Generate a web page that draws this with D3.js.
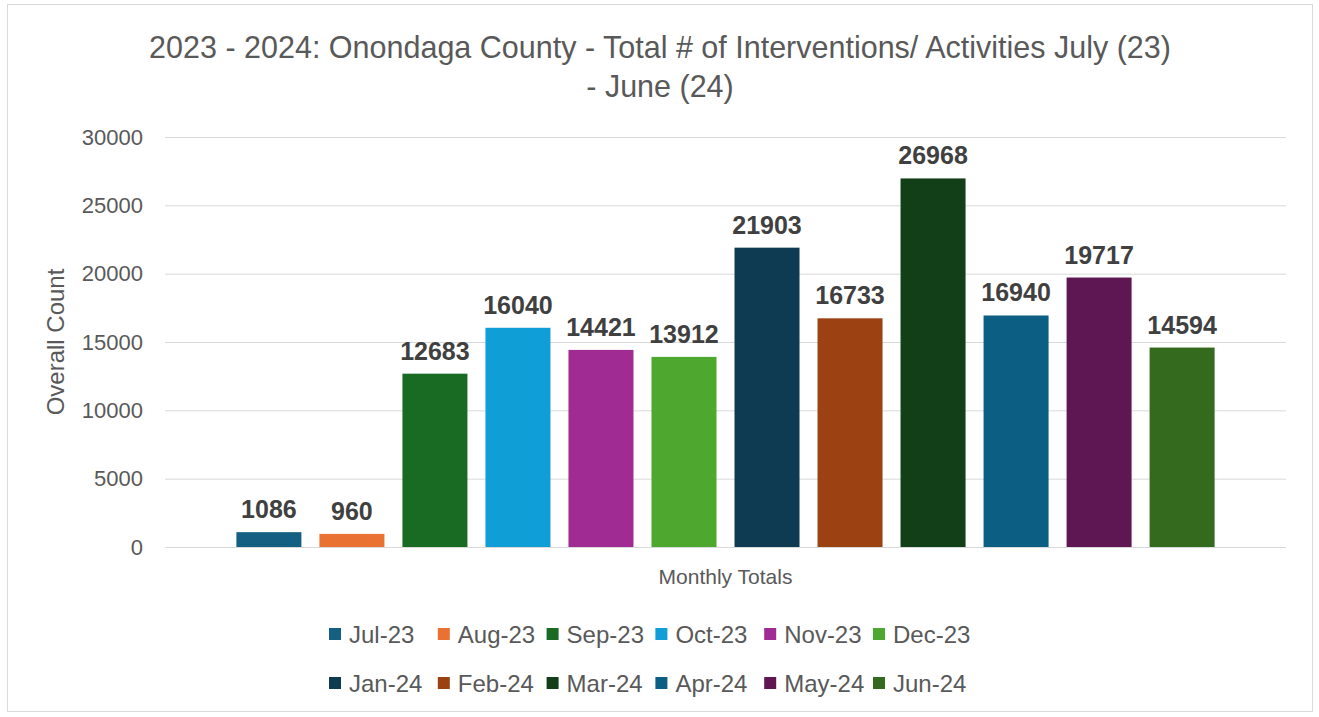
<!DOCTYPE html>
<html>
<head>
<meta charset="utf-8">
<script src="https://cdn.jsdelivr.net/npm/d3@7"></script>
<style>
  body { margin: 0; background: #fff; }
  svg { display: block; }
</style>
</head>
<body>
<div id="chart"></div>
<script>
// one category ("Monthly Totals"), one series per month
var months = ["Jul-23", "Aug-23", "Sep-23", "Oct-23", "Nov-23", "Dec-23",
              "Jan-24", "Feb-24", "Mar-24", "Apr-24", "May-24", "Jun-24"];
var totals = [1086, 960, 12683, 16040, 14421, 13912,
              21903, 16733, 26968, 16940, 19717, 14594];
var colors = ["#156082", "#E97132", "#196B24", "#0F9ED5", "#A02B93", "#4EA72E",
              "#0E3A52", "#9B4112", "#123F18", "#0C5E82", "#5F1753", "#336A1E"];
var yTicks = [0, 5000, 10000, 15000, 20000, 25000, 30000];

var W = 1319, H = 717;
var plotLeft = 165, plotRight = 1286, plotTop = 137, plotBottom = 547;
var font = "'Liberation Sans', Arial, sans-serif";

var svg = d3.select("#chart").append("svg")
    .attr("width", W)
    .attr("height", H);

// chart frame
svg.append("rect")
    .attr("x", 7.5).attr("y", 4.5)
    .attr("width", 1305).attr("height", 707)
    .attr("fill", "#fff")
    .attr("stroke", "#d9d9d9");

var x = d3.scaleBand()
    .domain(months)
    .range([plotLeft, plotRight])
    .paddingInner(0.217)
    .paddingOuter(0.86);

var y = d3.scaleLinear()
    .domain([0, 30000])
    .range([plotBottom, plotTop]);

// gridlines + tick labels
var yAxis = svg.append("g")
    .attr("transform", "translate(" + plotLeft + ",0)")
    .call(d3.axisLeft(y).tickValues(yTicks).tickSize(-(plotRight - plotLeft)).tickPadding(22).tickFormat(d3.format("d")));
yAxis.select(".domain").remove();
yAxis.selectAll(".tick line").attr("stroke", "#d9d9d9");
yAxis.selectAll(".tick text")
    .attr("fill", "#595959")
    .style("font-family", font)
    .style("font-size", "22px");

// bars
svg.selectAll("rect.bar")
    .data(months)
    .enter()
    .append("rect")
    .attr("class", "bar")
    .attr("x", function (d) { return x(d); })
    .attr("y", function (d, i) { return y(totals[i]); })
    .attr("width", x.bandwidth())
    .attr("height", function (d, i) { return plotBottom - y(totals[i]); })
    .attr("fill", function (d, i) { return colors[i]; });

// value labels
svg.selectAll("text.val")
    .data(months)
    .enter()
    .append("text")
    .attr("class", "val")
    .attr("x", function (d) { return x(d) + x.bandwidth() / 2; })
    .attr("y", function (d, i) { return y(totals[i]) - 14; })
    .attr("text-anchor", "middle")
    .attr("fill", "#404040")
    .style("font-family", font)
    .style("font-size", "25px")
    .style("font-weight", "bold")
    .text(function (d, i) { return totals[i]; });

// title
var title = svg.append("text")
    .attr("text-anchor", "middle")
    .attr("fill", "#595959")
    .style("font-family", font)
    .style("font-size", "30.5px");
title.append("tspan").attr("x", 660).attr("y", 58)
    .text("2023 - 2024: Onondaga County - Total # of Interventions/ Activities July (23)");
title.append("tspan").attr("x", 660).attr("y", 97)
    .text("- June (24)");

// axis titles
svg.append("text")
    .attr("transform", "translate(64," + ((plotTop + plotBottom) / 2) + ") rotate(-90)")
    .attr("text-anchor", "middle")
    .attr("fill", "#595959")
    .style("font-family", font)
    .style("font-size", "24px")
    .text("Overall Count");

svg.append("text")
    .attr("x", (plotLeft + plotRight) / 2)
    .attr("y", 584)
    .attr("text-anchor", "middle")
    .attr("fill", "#595959")
    .style("font-family", font)
    .style("font-size", "21px")
    .text("Monthly Totals");

// legend, two rows of six
var legend = svg.selectAll("g.leg")
    .data(months)
    .enter()
    .append("g")
    .attr("class", "leg")
    .attr("transform", function (d, i) {
        return "translate(" + (329 + (i % 6) * 108.8) + "," + (i < 6 ? 634 : 683) + ")";
    });
legend.append("rect")
    .attr("x", 0).attr("y", -6)
    .attr("width", 12).attr("height", 12)
    .attr("fill", function (d, i) { return colors[i]; });
legend.append("text")
    .attr("x", 20).attr("y", 8.5)
    .attr("fill", "#595959")
    .style("font-family", font)
    .style("font-size", "24px")
    .text(function (d) { return d; });
</script>
</body>
</html>
